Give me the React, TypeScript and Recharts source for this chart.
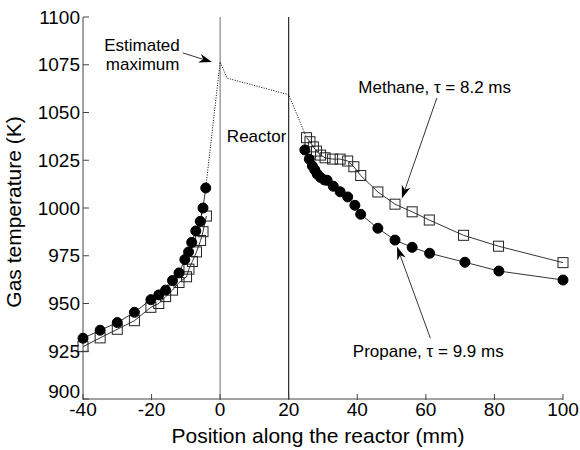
import React from 'react';
import { ComposedChart, Line, XAxis, YAxis, ReferenceLine, ReferenceDot } from 'recharts';

// ---- data ----
const propaneLeftX = [-40, -35, -30, -25, -20.2, -17.9, -15.9, -13.9, -12, -10.3, -9.2, -8.3, -7.1, -5.8, -5, -4.2];
const propaneLeftY = [931.8, 936, 940, 945.4, 952, 954.5, 957, 962, 966, 973, 977, 982, 988, 993, 1000, 1010.5];

const methaneLeftX = [-40, -35, -30, -25, -20.2, -17.9, -15.9, -13.9, -12, -9.8, -9.1, -8.1, -6.9, -5.7, -5, -4];
const methaneLeftY = [927.4, 932, 936.5, 941, 948, 950, 953.6, 957, 961, 964, 968, 972, 977, 983, 987.6, 995.8];

const methaneRightX = [25.2, 26.2, 27.2, 28.1, 29.3, 30.6, 32.8, 35, 37.2, 39, 41, 46, 51, 56, 61, 71, 81.2, 100];
const methaneRightY = [1036.8, 1034.7, 1032, 1029.8, 1027.7, 1026.3, 1025.6, 1025.6, 1024.6, 1021.6, 1017, 1008.4, 1002, 998, 993.7, 985.7, 980, 971.4];

const propaneRightX = [24.7, 26, 26.9, 27.6, 28.3, 29.3, 30.4, 31.2, 33, 35, 37.2, 39.3, 41, 46, 51, 56, 61.1, 71.4, 81.3, 100];
const propaneRightY = [1030.4, 1025.6, 1022, 1020, 1017.8, 1016, 1014.7, 1014.5, 1011.4, 1008.5, 1005.8, 1001.4, 996.7, 989.4, 983.2, 979.4, 976.3, 971.6, 967, 962.3];

const estimatedX = [-4.2, 0, 2, 20, 25.2];
const estimatedY = [1010.5, 1076.5, 1068, 1059.3, 1036.8];

const xTicks = [-40, -20, 0, 20, 40, 60, 80, 100];
const yTicks = [900, 925, 950, 975, 1000, 1025, 1050, 1075, 1100];

const zip = (xs: number[], ys: number[]) => xs.map((x, i) => ({ x, y: ys[i] }));

const FONT = '"Liberation Sans", Arial, Helvetica, sans-serif';
const AXIS = '#444';

const BottomTick = (p: any) => (
  <g>
    <line x1={p.x} x2={p.x} y1={p.y - 3} y2={p.y - 9} stroke={AXIS} />
    <text x={p.x} y={p.y} dy="0.71em" textAnchor="middle" fontSize={19} fontFamily={FONT} fill="#000">
      {p.payload.value}
    </text>
  </g>
);
const LeftTick = (p: any) => (
  <g>
    <line x1={p.x + 3} x2={p.x + 9} y1={p.y} y2={p.y} stroke={AXIS} />
    <text
      x={p.x}
      y={p.y - (p.index === 0 ? 8 : 0)}
      dy="0.355em"
      textAnchor="end"
      fontSize={19}
      fontFamily={FONT}
      fill="#000"
    >
      {p.payload.value}
    </text>
  </g>
);
const TopTick = (p: any) => <line x1={p.x} x2={p.x} y1={p.y} y2={p.y + 6} stroke={AXIS} />;
const RightTick = (p: any) => <line x1={p.x - 6} x2={p.x} y1={p.y} y2={p.y} stroke={AXIS} />;

const Square = (p: any) => (
  <rect key={p.index} x={p.cx - 5} y={p.cy - 5} width={10} height={10} fill="none" stroke="#222" strokeWidth={1} />
);
const Circle = (p: any) => <circle key={p.index} cx={p.cx} cy={p.cy} r={5} fill="#000" stroke="#000" />;

const Arrow = (p: any) => {
  const { x1, y1, x2, y2 } = p;
  const dx = x2 - x1, dy = y2 - y1;
  const len = Math.sqrt(dx * dx + dy * dy);
  const ux = dx / len, uy = dy / len;
  const L = 13, W = 4.5;
  const bx = x2 - ux * L, by = y2 - uy * L;
  const nx = -uy, ny = ux;
  const notch = `${x2},${y2} ${bx + nx * W},${by + ny * W} ${x2 - ux * L * 0.7},${y2 - uy * L * 0.7} ${bx - nx * W},${by - ny * W}`;
  return (
    <g>
      <line x1={x1} y1={y1} x2={x2 - ux * 6} y2={y2 - uy * 6} stroke="#000" strokeWidth={0.8} />
      <polygon points={notch} fill="#000" />
    </g>
  );
};

const makeText = (txt: string, anchor: string) => (p: any) => (
  <text x={p.cx} y={p.cy} textAnchor={anchor} fontSize={17} fontFamily={FONT} fill="#000">
    {txt}
  </text>
);

export default function App() {
  return (
    <div style={{ position: 'absolute', left: 0, top: 0, width: 580, height: 450, background: '#fff' }}>
      <ComposedChart width={580} height={450} margin={{ top: 17, right: 17, bottom: 0, left: 0 }}>
        <XAxis
          xAxisId="b"
          dataKey="x"
          type="number"
          domain={[-40, 100]}
          ticks={xTicks}
          interval={0}
          height={51}
          tickSize={0}
          tickMargin={4}
          tick={BottomTick}
          stroke={AXIS}
          allowDuplicatedCategory={false}
          label={(props: any) => (
            <text x={318} y={443} textAnchor="middle" fontSize={21} fontFamily={FONT} fill="#000">
              Position along the reactor (mm)
            </text>
          )}
        />
        <XAxis
          xAxisId="t"
          orientation="top"
          dataKey="x"
          type="number"
          domain={[-40, 100]}
          ticks={xTicks}
          interval={0}
          height={0}
          tickSize={0}
          tickMargin={0}
          tick={TopTick}
          stroke={AXIS}
        />
        <YAxis
          yAxisId="l"
          type="number"
          domain={[900, 1100]}
          ticks={yTicks}
          interval={0}
          width={83}
          tickSize={0}
          tickMargin={3}
          tick={LeftTick}
          stroke={AXIS}
          label={(props: any) => (
            <text
              x={21}
              y={212}
              transform="rotate(-90 21 212)"
              textAnchor="middle"
              fontSize={21}
              fontFamily={FONT}
              fill="#000"
            >
              Gas temperature (K)
            </text>
          )}
        />
        <YAxis
          yAxisId="r"
          orientation="right"
          type="number"
          domain={[900, 1100]}
          ticks={yTicks}
          interval={0}
          width={0}
          tickSize={0}
          tickMargin={0}
          tick={RightTick}
          stroke={AXIS}
        />

        <ReferenceLine xAxisId="b" yAxisId="l" x={0} stroke="#888" strokeWidth={1.2} />
        <ReferenceLine xAxisId="b" yAxisId="l" x={20} stroke="#000" strokeWidth={1} />

        <Line
          xAxisId="b"
          yAxisId="l"
          data={zip(estimatedX, estimatedY)}
          dataKey="y"
          type="linear"
          stroke="#000"
          strokeWidth={1}
          strokeDasharray="1 1.5"
          dot={false}
          activeDot={false}
          isAnimationActive={false}
        />
        <Line xAxisId="b" yAxisId="l" data={zip(methaneLeftX, methaneLeftY)} dataKey="y" type="linear" stroke="#000" strokeWidth={0.8} dot={Square} activeDot={false} isAnimationActive={false} />
        <Line xAxisId="b" yAxisId="l" data={zip(methaneRightX, methaneRightY)} dataKey="y" type="linear" stroke="#000" strokeWidth={0.8} dot={Square} activeDot={false} isAnimationActive={false} />
        <Line xAxisId="b" yAxisId="l" data={zip(propaneLeftX, propaneLeftY)} dataKey="y" type="linear" stroke="#000" strokeWidth={0.8} dot={Circle} activeDot={false} isAnimationActive={false} />
        <Line xAxisId="b" yAxisId="l" data={zip(propaneRightX, propaneRightY)} dataKey="y" type="linear" stroke="#000" strokeWidth={0.8} dot={Circle} activeDot={false} isAnimationActive={false} />

        <ReferenceLine xAxisId="b" yAxisId="l" segment={[{ x: -10.9, y: 1081.2 }, { x: -2.4, y: 1076.4 }]} shape={Arrow} />
        <ReferenceLine xAxisId="b" yAxisId="l" segment={[{ x: 63.2, y: 1057.6 }, { x: 53, y: 1005 }]} shape={Arrow} />
        <ReferenceLine xAxisId="b" yAxisId="l" segment={[{ x: 61.3, y: 931.9 }, { x: 51.6, y: 979.7 }]} shape={Arrow} />

        <ReferenceDot xAxisId="b" yAxisId="l" x={-22.8} y={1082.2} shape={makeText('Estimated', 'middle')} />
        <ReferenceDot xAxisId="b" yAxisId="l" x={-22.6} y={1072.3} shape={makeText('maximum', 'middle')} />
        <ReferenceDot xAxisId="b" yAxisId="l" x={1.96} y={1034.6} shape={makeText('Reactor', 'start')} />
        <ReferenceDot xAxisId="b" yAxisId="l" x={40.3} y={1060} shape={makeText('Methane, \u03c4 = 8.2 ms', 'start')} />
        <ReferenceDot xAxisId="b" yAxisId="l" x={38.7} y={922.1} shape={makeText('Propane, \u03c4 = 9.9 ms', 'start')} />
      </ComposedChart>
    </div>
  );
}
